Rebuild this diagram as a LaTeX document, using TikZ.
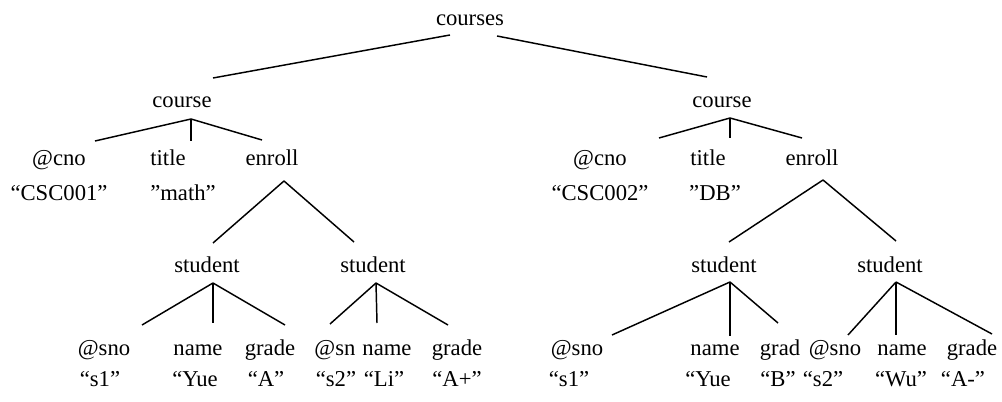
\documentclass[tikz,border=0pt]{standalone}
\usepackage{fontspec}
\setmainfont{Liberation Serif}
\begin{document}
\begin{tikzpicture}[x=0.75pt,y=-0.75pt,line width=1.1pt,
	lbl/.style={inner sep=0pt,yshift=-2.5pt,font=\fontsize{17}{20}\selectfont,text height=1.5ex,text depth=.25ex}]
	\useasboundingbox (0,0) rectangle (1002,402);
	
	\node[lbl](ROOT) at (470,18){courses};
	\node[lbl](C1) at (182,100){course};
	\node[lbl](C2) at (722,100){course};
	
	% first course
	\node[lbl](CNO1) at (59,158){@cno};
	\node[lbl](TTL1) at (168,158){title};
	\node[lbl](ENR1) at (272,158){enroll};
	\node[lbl](CNOV1) at (59,193){“CSC001”};
	\node[lbl](TTLV1) at (183,193){”math”};
	
	\node[lbl](S11) at (207,265){student};
	\node[lbl](S12) at (373,265){student};
	
	\node[lbl](SNO11) at (104,348){@sno};
	\node[lbl](NM11) at (198,348){name};
	\node[lbl](GR11) at (270,348){grade};
	\node[lbl](SNO12) at (335,348){@sn};
	\node[lbl](NM12) at (387,348){name};
	\node[lbl](GR12) at (457,348){grade};
	
	\node[lbl](SNOV11) at (100,379){“s1”};
	\node[lbl](NMV11) at (195,379){“Yue};
	\node[lbl](GRV11) at (266,379){“A”};
	\node[lbl](SNOV12) at (336,379){“s2”};
	\node[lbl](NMV12) at (384,379){“Li”};
	\node[lbl](GRV12) at (457,379){“A+”};
	
	% second course
	\node[lbl](CNO2) at (600,158){@cno};
	\node[lbl](TTL2) at (708,158){title};
	\node[lbl](ENR2) at (812,158){enroll};
	\node[lbl](CNOV2) at (600,193){“CSC002”};
	\node[lbl](TTLV2) at (715,193){”DB”};
	
	\node[lbl](S21) at (724,265){student};
	\node[lbl](S22) at (890,265){student};
	
	\node[lbl](SNO21) at (577,348){@sno};
	\node[lbl](NM21) at (715,348){name};
	\node[lbl](GR21) at (780,348){grad};
	\node[lbl](SNO22) at (835,348){@sno};
	\node[lbl](NM22) at (902,348){name};
	\node[lbl](GR22) at (972,348){grade};
	
	\node[lbl](SNOV21) at (569,379){“s1”};
	\node[lbl](NMV21) at (708,379){“Yue};
	\node[lbl](GRV21) at (778,379){“B”};
	\node[lbl](SNOV22) at (823,379){“s2”};
	\node[lbl](NMV22) at (901,379){“Wu”};
	\node[lbl](GRV22) at (963,379){“A-”};
	
	% branch points
	\coordinate (ROOTa) at (450,35);
	\coordinate (ROOTb) at (497,36);
	\coordinate (C1up) at (213,78);
	\coordinate (C2up) at (707,77);
	
	\coordinate (C1dn) at (191,119);
	\coordinate (CNO1up) at (95,141);
	\coordinate (TTL1up) at (191,141);
	\coordinate (ENR1up) at (262,140);
	\coordinate (C2dn) at (730,118);
	\coordinate (CNO2up) at (659,138);
	\coordinate (TTL2up) at (730,138);
	\coordinate (ENR2up) at (802,138);
	
	\coordinate (ENR1dn) at (284,181);
	\coordinate (S11up) at (213,243);
	\coordinate (S12up) at (354,242);
	\coordinate (ENR2dn) at (823,180);
	\coordinate (S21up) at (729,242);
	\coordinate (S22up) at (896,241);
	
	\coordinate (S11dn) at (213,283);
	\coordinate (SNO11up) at (142,325);
	\coordinate (NM11up) at (213,323);
	\coordinate (GR11up) at (285,325);
	\coordinate (S12dn) at (376,283);
	\coordinate (SNO12up) at (330,324);
	\coordinate (NM12up) at (377,323);
	\coordinate (GR12up) at (448,325);
	\coordinate (S21dn) at (730,282);
	\coordinate (SNO21up) at (612,335);
	\coordinate (NM21up) at (730,336);
	\coordinate (GR21up) at (778,323);
	\coordinate (S22dn) at (896,282);
	\coordinate (SNO22up) at (848,335);
	\coordinate (NM22up) at (896,335);
	\coordinate (GR22up) at (992,334);
	
	\draw (ROOTa) -- (C1up);
	\draw (ROOTb) -- (C2up);
	
	\draw (C1dn) -- (CNO1up);
	\draw (C1dn) -- (TTL1up);
	\draw (C1dn) -- (ENR1up);
	\draw (C2dn) -- (CNO2up);
	\draw (C2dn) -- (TTL2up);
	\draw (C2dn) -- (ENR2up);
	
	\draw (ENR1dn) -- (S11up);
	\draw (ENR1dn) -- (S12up);
	\draw (ENR2dn) -- (S21up);
	\draw (ENR2dn) -- (S22up);
	
	\draw (S11dn) -- (SNO11up);
	\draw (S11dn) -- (NM11up);
	\draw (S11dn) -- (GR11up);
	\draw (S12dn) -- (SNO12up);
	\draw (S12dn) -- (NM12up);
	\draw (S12dn) -- (GR12up);
	\draw (S21dn) -- (SNO21up);
	\draw (S21dn) -- (NM21up);
	\draw (S21dn) -- (GR21up);
	\draw (S22dn) -- (SNO22up);
	\draw (S22dn) -- (NM22up);
	\draw (S22dn) -- (GR22up);
\end{tikzpicture}
\end{document}
